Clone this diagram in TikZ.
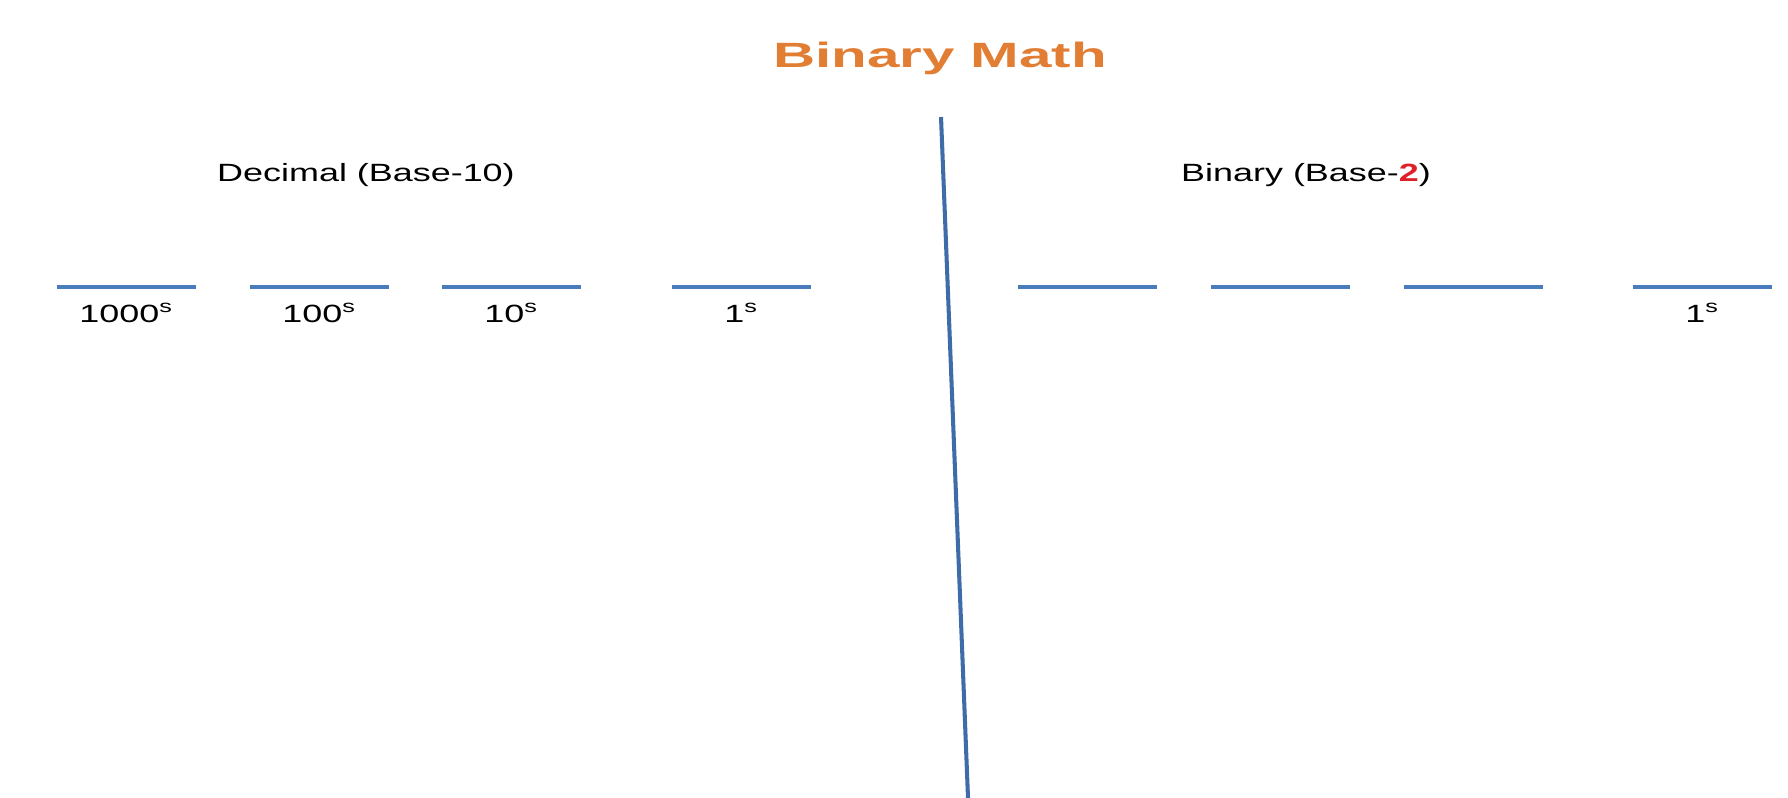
\documentclass[tikz,border=0pt]{standalone}
\usepackage{fontspec}
\setmainfont{Liberation Sans}
\newfontfamily\labelfont{Liberation Sans}[FakeStretch=1.44]
\newfontfamily\titlefont{Liberation Sans}[FakeStretch=1.66]
\usetikzlibrary{positioning}
\definecolor{titleorange}{RGB}{226,126,52}
\definecolor{blankblue}{RGB}{74,124,187}
\definecolor{dividerblue}{RGB}{62,108,168}
\definecolor{digitred}{RGB}{222,32,40}

\begin{document}
\begin{tikzpicture}[
      every node/.style={inner sep=0pt},
      titletext/.style={font=\titlefont\bfseries\fontsize{10pt}{12pt}\selectfont,text=titleorange,anchor=base},
      heading/.style={font=\labelfont\fontsize{7.1pt}{8.5pt}\selectfont,anchor=base},
      place/.style={font=\labelfont\fontsize{7.1pt}{8.5pt}\selectfont},
      blank/.style={draw=blankblue,line width=1.15pt},
      divider/.style={draw=dividerblue,line width=1.15pt}
    ]
      \useasboundingbox (0,0) rectangle (17.88,-7.98);
      \node[titletext] (title) at (9.40,-0.68) {Binary Math};
      \node[heading] (dec) at (3.66,-1.82) {Decimal (Base-10)};
      \node[heading] (bin) at (13.06,-1.82) {Binary (Base-{\bfseries\color{digitred}2})};
      % blanks for the place values
      \foreach \n/\x in {d1/0.57,d2/2.50,d3/4.42,d4/6.72,b1/10.18,b2/12.11,b3/14.04,b4/16.33} {
        \coordinate (\n w) at (\x,-2.87);
        \coordinate (\n e) at (\x+1.39,-2.87);
        \coordinate (\n) at (\x+0.695,-2.87);
        \draw[blank] (\n w) -- (\n e);
      }
      \node[place,below=0.15 of d1] (thousands) {1000\textsuperscript{s}};
      \node[place,below=0.15 of d2] (hundreds) {100\textsuperscript{s}};
      \node[place,below=0.15 of d3] (tens) {10\textsuperscript{s}};
      \node[place,below=0.15 of d4] (ones) {1\textsuperscript{s}};
      \node[place,below=0.15 of b4] (binones) {1\textsuperscript{s}};
      % dividing line
      \coordinate (divtop) at (9.41,-1.17);
      \coordinate (divbottom) at (9.68,-7.98);
      \draw[divider] (divtop) -- (divbottom);
    \end{tikzpicture}
\end{document}
